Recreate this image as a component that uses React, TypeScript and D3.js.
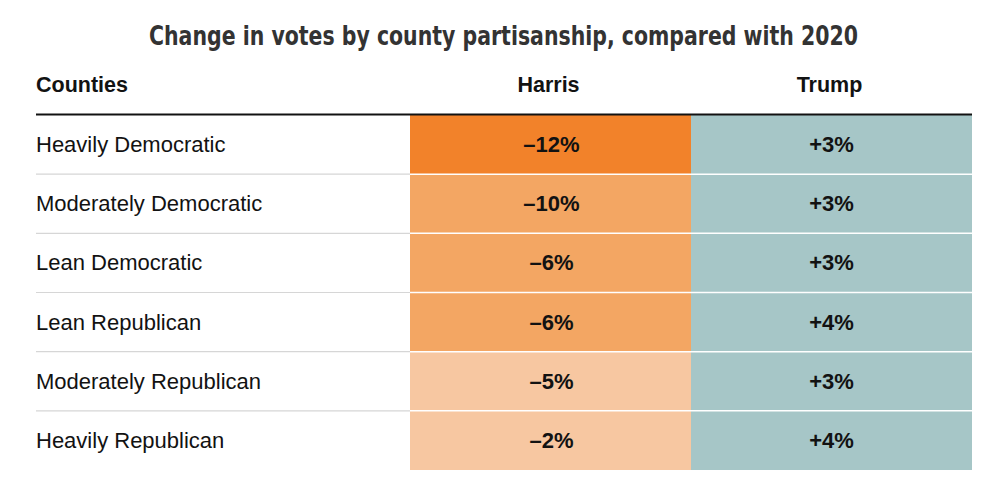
import React from "react";
import * as d3 from "d3";

const title = "Change in votes by county partisanship, compared with 2020";
const columns = ["Counties", "Harris", "Trump"];
const counties = [
  "Heavily Democratic",
  "Moderately Democratic",
  "Lean Democratic",
  "Lean Republican",
  "Moderately Republican",
  "Heavily Republican",
];
const harris = [-12, -10, -6, -6, -5, -2];
const trump = [3, 3, 3, 4, 3, 4];

const W = 1000;
const H = 485;

function fmt(v: number) {
  return (v < 0 ? "\u2013" : "+") + Math.abs(v) + "%";
}

export default function App() {
  const y = d3.scaleBand<string>().domain(counties).range([115, 470]).paddingInner(0);
  const x = d3.scaleOrdinal<string, number>().domain(["Harris", "Trump"]).range([410, 691]);
  const colW = 281;
  const harrisColor = d3
    .scaleThreshold<number, string>()
    .domain([-11, -5.5])
    .range(["#f2822a", "#f3a663", "#f7c7a1"]);
  const trumpColor = "#a6c6c7";
  const ink = "#121212";
  const textFont = "'Liberation Sans', Arial, sans-serif";

  return (
    <svg width={W} height={H} style={{ position: "absolute", left: 0, top: 0, background: "#fff" }}>
      <rect x={0} y={0} width={W} height={H} fill="#fff" />
      <text
        x={149}
        y={44.5}
        textLength={709}
        lengthAdjust="spacingAndGlyphs"
        fontFamily="'DejaVu Sans Condensed', 'DejaVu Sans', sans-serif"
        fontWeight={700}
        fontSize={26.5}
        fill="#333"
      >
        {title}
      </text>
      <text x={36} y={92} fontFamily={textFont} fontWeight={700} fontSize={21.5} fill={ink}>
        {columns[0]}
      </text>
      {columns.slice(1).map((c) => (
        <text
          key={c}
          x={(x(c) as number) + colW / 2 - 2}
          y={92}
          textAnchor="middle"
          fontFamily={textFont}
          fontWeight={700}
          fontSize={21.5}
          fill={ink}
        >
          {c}
        </text>
      ))}
      {counties.map((c, i) => {
        const y0 = y(c) as number;
        const bh = y.bandwidth();
        return (
          <g key={c}>
            <rect x={x("Harris")} y={y0} width={colW} height={bh} fill={harrisColor(harris[i])} />
            <rect x={x("Trump")} y={y0} width={colW} height={bh} fill={trumpColor} />
            {i > 0 && (
              <>
                <line x1={36} x2={410} y1={y0} y2={y0} stroke="#d6d6d6" strokeWidth={1.2} />
                <line x1={410} x2={972} y1={y0} y2={y0} stroke="#fff" strokeWidth={1.5} />
              </>
            )}
            <text x={36} y={y0 + bh / 2 + 7.5} fontFamily={textFont} fontSize={22} fill={ink}>
              {c}
            </text>
            <text
              x={(x("Harris") as number) + colW / 2 + 1}
              y={y0 + bh / 2 + 7.5}
              textAnchor="middle"
              fontFamily={textFont}
              fontWeight={700}
              fontSize={22}
              fill={ink}
            >
              {fmt(harris[i])}
            </text>
            <text
              x={(x("Trump") as number) + colW / 2}
              y={y0 + bh / 2 + 7.5}
              textAnchor="middle"
              fontFamily={textFont}
              fontWeight={700}
              fontSize={22}
              fill={ink}
            >
              {fmt(trump[i])}
            </text>
          </g>
        );
      })}
      <line x1={36} x2={972} y1={114.5} y2={114.5} stroke="#121212" strokeWidth={2} />
    </svg>
  );
}
